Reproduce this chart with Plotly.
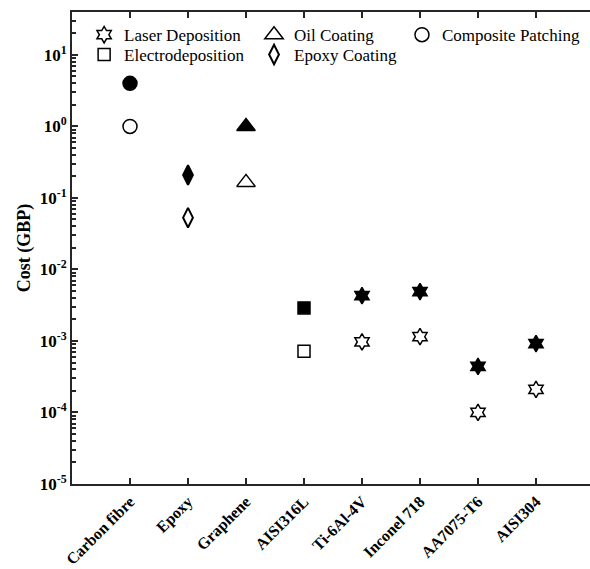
import plotly.graph_objects as go

categories = ["Carbon fibre", "Epoxy", "Graphene", "AISI316L",
              "Ti-6Al-4V", "Inconel 718", "AA7075-T6", "AISI304"]

laser_cats = ["Ti-6Al-4V", "Inconel 718", "AA7075-T6", "AISI304"]
laser_low = [0.00097, 0.00115, 0.00010, 0.00021]
laser_high = [0.0043, 0.0049, 0.00044, 0.00092]

electro_cats = ["AISI316L"]
electro_low = [0.00072]
electro_high = [0.0029]

oil_cats = ["Graphene"]
oil_low = [0.165]
oil_high = [1.0]

epoxy_cats = ["Epoxy"]
epoxy_low = [0.053]
epoxy_high = [0.21]

composite_cats = ["Carbon fibre"]
composite_low = [1.0]
composite_high = [4.0]

ytick_vals = [1e-5, 1e-4, 1e-3, 1e-2, 1e-1, 1e0, 1e1]
ytick_text = ["10<sup>-5</sup>", "10<sup>-4</sup>", "10<sup>-3</sup>", "10<sup>-2</sup>",
              "10<sup>-1</sup>", "10<sup>0</sup>", "10<sup>1</sup>"]

# name, categories, low (hollow), high (filled), symbol, size, line width, legend id, legend x, legend y
series = [
    ("Laser Deposition", laser_cats, laser_low, laser_high, "hexagram", 12.5, 1.5, "legend", 0.0234, 0.951),
    ("Electrodeposition", electro_cats, electro_low, electro_high, "square", 12, 1.5, "legend2", 0.0234, 0.909),
    ("Oil Coating", oil_cats, oil_low, oil_high, "triangle-up", 16, 1.5, "legend3", 0.3514, 0.951),
    ("Epoxy Coating", epoxy_cats, epoxy_low, epoxy_high, "diamond-tall", 14, 2, "legend4", 0.3514, 0.909),
    ("Composite Patching", composite_cats, composite_low, composite_high, "circle", 14, 1.5, "legend5", 0.637, 0.951),
]

FONT = "Liberation Serif, Times New Roman, serif"
fig = go.Figure()
legends = {}
for name, cats, low, high, sym, size, lw, leg, lx, ly in series:
    fig.add_trace(go.Scatter(
        x=cats, y=low, mode="markers", name=name, legend=leg,
        marker=dict(symbol=sym, size=size, color="white",
                    line=dict(color="black", width=lw)),
    ))
    fig.add_trace(go.Scatter(
        x=cats, y=high, mode="markers", name=name, showlegend=False,
        marker=dict(symbol=sym, size=size, color="black",
                    line=dict(color="black", width=lw)),
    ))
    legends[leg] = dict(x=lx, y=ly, xanchor="left", yanchor="middle",
                        bgcolor="rgba(0,0,0,0)", borderwidth=0,
                        font=dict(family=FONT, size=17, color="black"),
                        itemsizing="trace")

# minor ticks 2..9 per decade
minor_vals = [m * 10.0 ** e for e in range(-5, 2) for m in range(2, 10)]

fig.update_layout(
    width=590, height=569,
    margin=dict(l=72, r=0, t=12, b=85),
    plot_bgcolor="white", paper_bgcolor="white",
    font=dict(family=FONT, color="black"),
    xaxis=dict(
        type="category", categoryorder="array", categoryarray=categories,
        range=[-1, 7.931], showgrid=False, zeroline=False,
        showline=True, linecolor="#262626", linewidth=2, mirror="ticks",
        ticks="inside", ticklen=6, tickwidth=2, tickcolor="#262626",
        tickangle=-45, tickfont=dict(family=FONT, size=16, weight="bold"),
    ),
    yaxis=dict(
        type="log", range=[-5, 1.6], showgrid=False, zeroline=False,
        showline=True, linecolor="#262626", linewidth=2, mirror=False,
        ticks="inside", ticklen=6, tickwidth=2, tickcolor="#262626",
        tickmode="array", tickvals=ytick_vals, ticktext=ytick_text,
        tickfont=dict(family=FONT, size=17, weight="bold"),
        minor=dict(tickmode="array", tickvals=minor_vals, ticks="inside",
                   ticklen=3.5, tickwidth=1.5, tickcolor="#262626", showgrid=False),
        title=dict(text="Cost (GBP)", font=dict(family=FONT, size=18, weight="bold"),
                   standoff=4),
    ),
    yaxis2=dict(
        type="log", range=[-5, 1.6], overlaying="y", side="right", anchor="x",
        showgrid=False, zeroline=False, showline=False,
        ticks="inside", ticklen=3, tickwidth=2, tickcolor="#262626",
        tickmode="array", tickvals=ytick_vals, showticklabels=False,
    ),
    showlegend=True,
    **legends,
)

fig.write_html(
    "out.html",
    config={"displayModeBar": False},
    post_script="document.body.style.margin='0';document.body.style.overflow='hidden';",
)
